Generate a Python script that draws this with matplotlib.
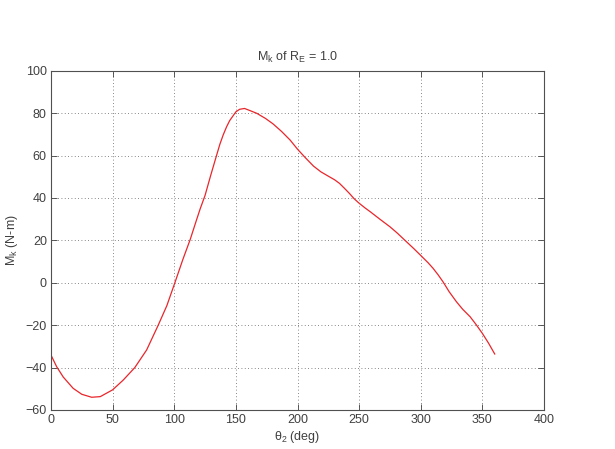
import matplotlib
matplotlib.use("Agg")
import matplotlib.pyplot as plt

# values
theta2 = [0, 4.6, 10, 18, 25, 33, 40, 50, 58.6, 68, 77.6, 87, 94, 100.5, 107, 113, 118,
          121, 125, 129.5, 134.3, 137, 139.7, 142.5, 145, 150, 153, 157, 161, 167, 174,
          180, 187, 194, 200, 206, 213, 219, 224, 230, 234, 238, 242, 246, 250, 255,
          259, 267, 275, 281, 287, 294, 301, 306, 310, 314, 318, 323, 329, 334, 340,
          345, 350, 355, 360]
mk = [-34.1, -39.6, -44.5, -49.8, -52.6, -54.0, -53.7, -50.5, -45.9, -40.0, -31.7,
      -20.0, -10.8, 0.0, 11.0, 20.5, 29.5, 34.8, 41.2, 50.5, 60.0, 65.3, 69.7, 73.6,
      76.5, 80.6, 81.8, 82.2, 81.3, 79.9, 77.5, 75.0, 71.4, 67.3, 63.0, 59.2, 55.0,
      52.3, 50.6, 48.6, 46.9, 44.6, 42.2, 39.6, 37.5, 35.2, 33.5, 29.9, 26.4, 23.4,
      20.1, 16.3, 12.3, 9.4, 6.8, 3.8, 0.5, -4.2, -9.0, -12.5, -16.0, -19.8, -23.9,
      -28.5, -33.6]

xticks = [0, 50, 100, 150, 200, 250, 300, 350, 400]
yticks = [-60, -40, -20, 0, 20, 40, 60, 80, 100]

plt.rcParams['font.family'] = ['Liberation Sans', 'DejaVu Sans']
plt.rcParams['mathtext.default'] = 'regular'

txt = '#404040'
fig = plt.figure(figsize=(6.15, 4.49), dpi=100)
ax = fig.add_axes([0.0829, 0.0869, 0.8017, 0.7556])

ax.plot(theta2, mk, color='#e8262b', linewidth=0.9)

ax.set_xlim(0, 400)
ax.set_ylim(-60, 100)
ax.set_xticks(xticks)
ax.set_yticks(yticks)
ax.grid(True, linestyle=(0, (1, 3)), color='#606060', linewidth=0.6)
ax.tick_params(direction='in', top=True, right=True, length=4, width=0.6,
               labelsize=9, colors=txt, pad=3)
for s in ax.spines.values():
    s.set_color('#505050')
    s.set_linewidth(0.8)

ax.set_title('$M_k$ of $R_E$ = 1.0', fontsize=9, color=txt, pad=7)
ax.set_xlabel(r'$\theta_2$ (deg)', fontsize=9, color=txt, labelpad=2)
ax.set_ylabel('$M_k$ (N-m)', fontsize=9, color=txt, labelpad=4)

fig.savefig('out.png', dpi=100)
